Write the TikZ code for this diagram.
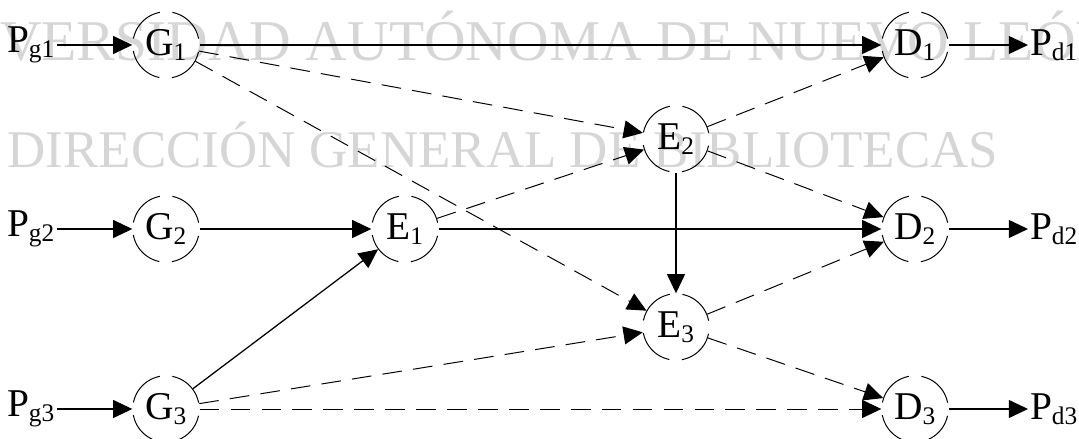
\documentclass[tikz,border=0pt]{standalone}
\usepackage{fontspec}
\setmainfont{Liberation Serif}
\usetikzlibrary{arrows.meta,positioning}
\newcommand{\idx}[1]{\textsubscript{\fontsize{18}{18}\selectfont #1}}
\tikzset{
	simpul/.style={circle, draw, minimum size=1.66cm, inner sep=0pt, line width=0.7pt, dash pattern=on 28pt off 9pt, dash phase=32.5pt},
	putus/.style={line width=0.7pt, dash pattern=on 14pt off 8pt},
	label/.style={inner sep=1pt}
}

\begin{document}
\begin{tikzpicture}[font=\fontsize{28}{30}\selectfont, line width=0.9pt, >={Triangle[length=0.48cm,width=0.45cm]}]

\useasboundingbox (0,0) rectangle (26.975,10.975);

% tulisan latar
\begin{scope}
\clip (0,0) rectangle (26.975,10.975);
\node[anchor=base west, inner sep=0pt, text=black!16, font=\fontsize{41}{41}\selectfont] (wm1) at (-2.575,9.45) {UNIVERSIDAD AUTÓNOMA DE NUEVO LEÓN};
\node[anchor=base west, inner sep=0pt, text=black!16, font=\fontsize{37.7}{38}\selectfont] (wm2) at (0.175,6.775) {DIRECCIÓN GENERAL DE BIBLIOTECAS};
\end{scope}

% simpul pembangkit, antara, tujuan
\node[simpul] (G1) at (4.15,9.85) {G\idx{1}};
\node[simpul] (G2) at (4.15,5.25) {G\idx{2}};
\node[simpul] (G3) at (4.15,0.75) {G\idx{3}};
\node[simpul] (E1) at (10.125,5.25) {E\idx{1}};
\node[simpul] (E2) at (16.9,7.5) {E\idx{2}};
\node[simpul] (E3) at (16.9,2.8) {E\idx{3}};
\node[simpul] (D1) at (22.875,9.85) {D\idx{1}};
\node[simpul] (D2) at (22.875,5.25) {D\idx{2}};
\node[simpul] (D3) at (22.875,0.75) {D\idx{3}};

% daya masuk dan keluar
\node[label, anchor=east] (Pg1) at (1.425,9.85) {P\idx{g1}};
\node[label, anchor=east] (Pg2) at (1.425,5.25) {P\idx{g2}};
\node[label, anchor=east] (Pg3) at (1.425,0.75) {P\idx{g3}};
\node[label, anchor=west] (Pd1) at (25.7,9.85) {P\idx{d1}};
\node[label, anchor=west] (Pd2) at (25.7,5.25) {P\idx{d2}};
\node[label, anchor=west] (Pd3) at (25.7,0.75) {P\idx{d3}};

% panah
\draw[->] (Pg1) -- (G1);
\draw[->] (Pg2) -- (G2);
\draw[->] (Pg3) -- (G3);
\draw[->] (G1) -- (D1);
\draw[->] (G2) -- (E1);
\draw[->] (G3) -- (E1);
\draw[->] (E1) -- (D2);
\draw[->] (E2) -- (E3);
\draw[->] (D1) -- (Pd1);
\draw[->] (D2) -- (Pd2);
\draw[->] (D3) -- (Pd3);

\draw[->,putus] (G1) -- (E2);
\draw[->,putus] (G1) -- (E3);
\draw[->,putus] (E1) -- (E2);
\draw[->,putus] (E2) -- (D1);
\draw[->,putus] (E2) -- (D2);
\draw[->,putus] (E3) -- (D2);
\draw[->,putus] (E3) -- (D3);
\draw[->,putus] (G3) -- (E3);
\draw[->,putus] (G3) -- (D3);

\end{tikzpicture}
\end{document}
